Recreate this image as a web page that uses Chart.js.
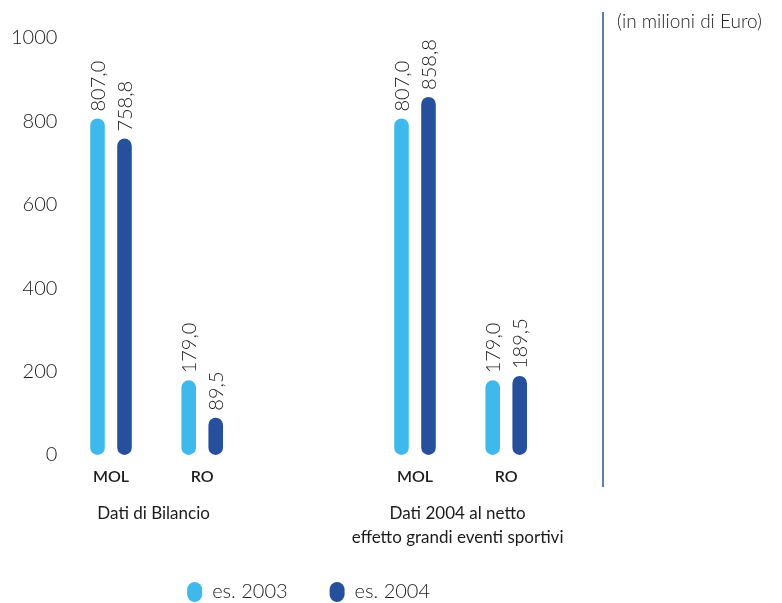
<!DOCTYPE html>
<html>
<head>
<meta charset="utf-8">
<script src="https://cdn.jsdelivr.net/npm/chart.js@4/dist/chart.umd.min.js"></script>
<style>
  html, body { margin: 0; padding: 0; background: #fff; }
  #wrap { width: 782px; height: 603px; }
</style>
</head>
<body>
<div id="wrap"><canvas id="mol-chart"></canvas></div>
<script>
// data
const categories = ['MOL', 'RO', 'MOL', 'RO'];
const groups = [['Dati di Bilancio'], ['Dati 2004 al netto', 'effetto grandi eventi sportivi']];
const groupOf = [0, 0, 1, 1];
const series = ['es. 2003', 'es. 2004'];
const values2003 = [807.0, 179.0, 807.0, 179.0];
const values2004 = [758.8, 89.5, 858.8, 189.5];
const yTicks = [0, 200, 400, 600, 800, 1000];
const unitNote = '(in milioni di Euro)';

(function(){

    const light = '#3fb8eb';
    const dark = '#26509c';
    const ink = '#1b1b1b';

    // the category axis is split in slots so the two groups sit apart
    const slotOf = [1, 4, 11, 14];
    const slotCount = 16;

    function spread(arr, fill){
        const out = new Array(slotCount).fill(fill);
        arr.forEach((v, i) => { out[slotOf[i]] = v; });
        return out;
    }

    const labels = spread(categories, '');

    const valueLabels = {
        id: 'valueLabels',
        afterDatasetsDraw(chart){
            const ctx = chart.ctx;
            ctx.save();
            ctx.font = '300 20px Lato';
            ctx.fillStyle = ink;
            ctx.textAlign = 'left';
            ctx.textBaseline = 'middle';
            chart.data.datasets.forEach((ds, di) => {
                const meta = chart.getDatasetMeta(di);
                meta.data.forEach((bar, i) => {
                    const v = ds.data[i];
                    if (v === null) return;
                    ctx.save();
                    ctx.translate(bar.x, bar.y - 7);
                    ctx.rotate(-Math.PI / 2);
                    ctx.fillText(v.toFixed(1).replace('.', ','), 0, 1);
                    ctx.restore();
                });
            });
            ctx.restore();
        }
    };

    const extras = {
        id: 'extras',
        afterDraw(chart){
            const ctx = chart.ctx;
            const x = chart.scales.x;
            ctx.save();
            // group captions under the categories
            ctx.font = '17px Lato';
            ctx.fillStyle = ink;
            ctx.textAlign = 'center';
            ctx.textBaseline = 'middle';
            groups.forEach((lines, g) => {
                const idx = [];
                groupOf.forEach((gg, i) => { if (gg === g) idx.push(slotOf[i]); });
                const cx = (x.getPixelForValue(idx[0]) + x.getPixelForValue(idx[idx.length - 1])) / 2 - 3;
                lines.forEach((t, li) => ctx.fillText(t, cx, 514 + li * 23.5));
            });
            // separator and unit note
            ctx.strokeStyle = dark;
            ctx.lineWidth = 1.5;
            ctx.beginPath();
            ctx.moveTo(603, 12);
            ctx.lineTo(603, 487);
            ctx.stroke();
            ctx.font = '300 19px Lato';
            ctx.textAlign = 'left';
            ctx.fillText(unitNote, 617, 22);
            ctx.restore();
        }
    };

    new Chart(document.getElementById('mol-chart'), {
        type: 'bar',
        data: {
            labels: labels,
            datasets: [{
                label: series[0],
                data: spread(values2003, null),
                backgroundColor: light,
                borderWidth: 0,
                borderRadius: 8,
                borderSkipped: false
            }, {
                label: series[1],
                data: spread(values2004, null),
                backgroundColor: dark,
                borderWidth: 0,
                borderRadius: 8,
                borderSkipped: false
            }]
        },
        options: {
            responsive: true,
            maintainAspectRatio: false,
            animation: false,
            categoryPercentage: 1.776,
            barPercentage: 0.54,
            layout: {
                padding: { top: 38, right: 230.2, bottom: -9, left: 0 }
            },
            scales: {
                x: {
                    grid: { display: false, drawTicks: false },
                    border: { display: false },
                    ticks: {
                        autoSkip: false,
                        maxRotation: 0,
                        padding: 12,
                        color: ink,
                        font: { family: 'Lato', size: 16, weight: '600' }
                    },
                    afterFit(scale){ scale.height = 85; }
                },
                y: {
                    min: 0,
                    max: 1000,
                    afterBuildTicks(scale){ scale.ticks = yTicks.map(v => ({ value: v })); },
                    grid: { display: false, drawTicks: false },
                    border: { display: false },
                    ticks: {
                        padding: 8,
                        color: ink,
                        font: { family: 'Lato', size: 20, weight: '300' },
                        callback: v => String(v)
                    },
                    afterFit(scale){ scale.width = 65.4; }
                }
            },
            plugins: {
                legend: {
                    position: 'bottom',
                    fullSize: false,
                    labels: {
                        boxWidth: 15,
                        boxHeight: 20,
                        useBorderRadius: true,
                        borderRadius: 7.5,
                        padding: 42,
                        color: ink,
                        font: { family: 'Lato', size: 20, weight: '300' }
                    }
                },
                tooltip: { enabled: false }
            }
        },
        plugins: [valueLabels, extras]
    });
})();
</script>
</body>
</html>
